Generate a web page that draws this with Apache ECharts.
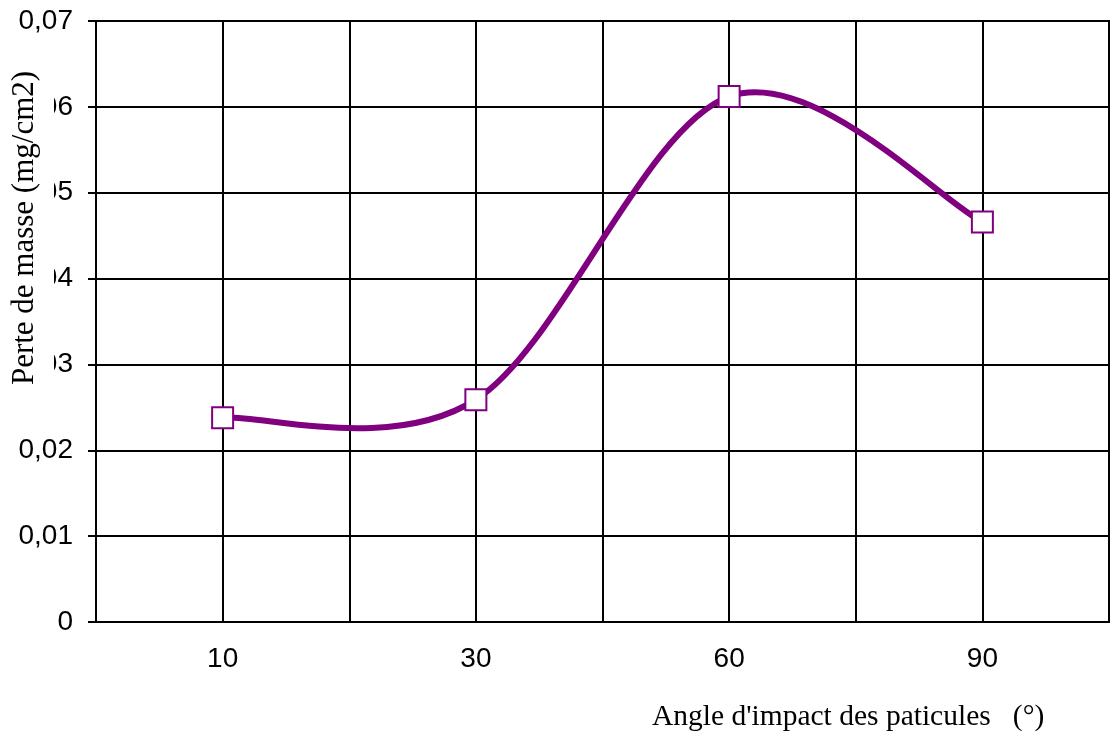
<!DOCTYPE html>
<html>
<head>
<meta charset="utf-8">
<script src="https://cdn.jsdelivr.net/npm/echarts@6/dist/echarts.min.js"></script>
<style>html,body{margin:0;padding:0;background:#fff}#c{width:1111px;height:731px}</style>
</head>
<body>
<div id="c"></div>
<script>
const categories = ['10', '30', '60', '90'];
const perteMasse = [0.0238, 0.0259, 0.0612, 0.0466];
const yTitle = 'Perte de masse (mg/cm2)';
const xTitle = "Angle d'impact des paticules   (°)";

// Smoothed line (Catmull-Rom like spreadsheet smoothing), built from axis coordinates
function renderSegment(params, api) {
  const i = params.dataIndex;
  const n = perteMasse.length;
  if (i >= n - 1) return null;
  const pt = k => {
    const j = Math.max(0, Math.min(n - 1, k));
    return api.coord([j, perteMasse[j]]);
  };
  const p0 = pt(i - 1), p1 = pt(i), p2 = pt(i + 1), p3 = pt(i + 2);
  const c1 = [p1[0] + (p2[0] - p0[0]) / 6, p1[1] + (p2[1] - p0[1]) / 6];
  const c2 = [p2[0] - (p3[0] - p1[0]) / 6, p2[1] - (p3[1] - p1[1]) / 6];
  return {
    type: 'bezierCurve',
    shape: {x1: p1[0], y1: p1[1], x2: p2[0], y2: p2[1], cpx1: c1[0], cpy1: c1[1], cpx2: c2[0], cpy2: c2[1]},
    style: {stroke: '#800080', lineWidth: 6, fill: null, lineCap: 'round'}
  };
}

const chart = echarts.init(document.getElementById('c'), null, {renderer: 'canvas'});
chart.setOption({
  animation: false,
  backgroundColor: '#fff',
  grid: {left: 96, right: 2, top: 21, bottom: 109, show: true, borderColor: '#000', borderWidth: 2},
  xAxis: [{
    type: 'category',
    data: categories,
    boundaryGap: true,
    axisLine: {show: true, lineStyle: {color: '#000', width: 2}},
    axisTick: {show: false},
    splitLine: {show: false},
    axisLabel: {color: '#000', fontFamily: 'Liberation Sans', fontSize: 28, margin: 23}
  }, {
    type: 'value',
    min: 0, max: 8, interval: 1,
    position: 'bottom',
    axisLine: {show: false},
    axisTick: {show: false},
    axisLabel: {show: false},
    splitLine: {show: true, lineStyle: {color: '#000', width: 2}}
  }],
  yAxis: {
    type: 'value',
    min: 0, max: 0.07, interval: 0.01,
    axisLine: {show: true, lineStyle: {color: '#000', width: 2}},
    axisTick: {show: true, length: 8, lineStyle: {color: '#000', width: 2}},
    splitLine: {show: true, lineStyle: {color: '#000', width: 2}},
    axisLabel: {
      color: '#000', fontFamily: 'Liberation Sans', fontSize: 28, margin: 23,
      formatter: v => v === 0 ? '0' : v.toFixed(2).replace('.', ',')
    }
  },
  series: [{
    type: 'custom',
    xAxisIndex: 0,
    yAxisIndex: 0,
    data: perteMasse.map((v, i) => [i, v]),
    renderItem: renderSegment,
    z: 4
  }, {
    type: 'scatter',
    xAxisIndex: 0,
    data: perteMasse,
    symbol: 'rect',
    symbolSize: 21,
    itemStyle: {color: '#fff', borderColor: '#800080', borderWidth: 2, opacity: 1},
    z: 5
  }],
  graphic: [
    {type: 'rect', left: 0, top: 45, shape: {width: 54, height: 355}, style: {fill: '#fff'}, z: 100},
    {type: 'text', x: 25, y: 228, rotation: Math.PI / 2,
     style: {text: yTitle, fontFamily: 'Liberation Serif', fontSize: 31, fill: '#000', align: 'center', verticalAlign: 'middle'}, z: 101},
    {type: 'text', x: 652, y: 717,
     style: {text: xTitle, fontFamily: 'Liberation Serif', fontSize: 29.5, fill: '#000', align: 'left', verticalAlign: 'middle'}, z: 101}
  ]
});
</script>
</body>
</html>
